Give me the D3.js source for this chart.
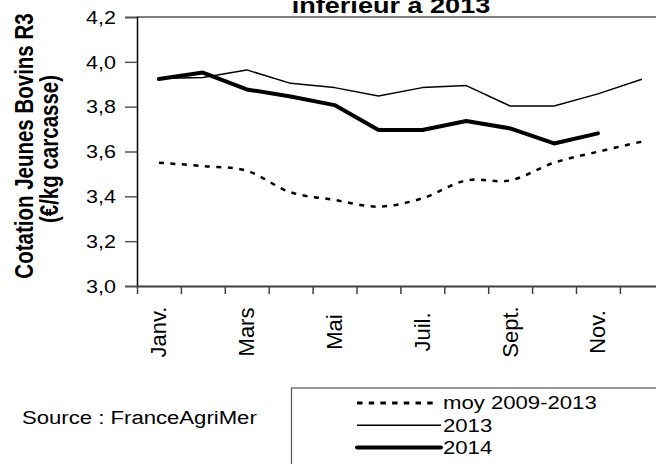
<!DOCTYPE html>
<html>
<head>
<meta charset="utf-8">
<script src="https://cdn.jsdelivr.net/npm/d3@7"></script>
<style>
  body { margin: 0; background: #fff; }
  svg { display: block; font-family: "Liberation Sans", Arial, sans-serif; }
</style>
</head>
<body>
<svg id="chart" width="656" height="464"></svg>
<script>
// months on the x axis (only every other one is labelled)
const months = ["Janv.", "Févr.", "Mars", "Avr.", "Mai", "Juin", "Juil.", "Août", "Sept.", "Oct.", "Nov.", "Déc."];
const yTicks = [3.0, 3.2, 3.4, 3.6, 3.8, 4.0, 4.2];

// €/kg carcasse
const moy0913 = [3.55, 3.535, 3.514, 3.418, 3.384, 3.354, 3.391, 3.471, 3.471, 3.55, 3.599, 3.644];
const val2013 = [3.926, 3.93, 3.964, 3.904, 3.885, 3.848, 3.885, 3.894, 3.803, 3.803, 3.857, 3.922];
const val2014 = [3.923, 3.952, 3.877, 3.845, 3.807, 3.696, 3.696, 3.736, 3.703, 3.636, 3.681];

const seriesNames = ["moy 2009-2013", "2013", "2014"];

const SX = 1.23; // the source picture is stretched sideways

let svg = d3.select('#chart');

let plotLeft = 137, plotTop = 17, plotBottom = 286, step = 43.9;
let plotRight = plotLeft + step * months.length;

let x = d3.scaleBand().domain(months).range([plotLeft, plotRight]);
let xEdge = d3.scaleLinear().domain([0, months.length]).range([plotLeft, plotRight]);
let y = d3.scaleLinear().domain([3.0, 4.2]).range([plotBottom, plotTop]);

let fmt = d => d3.format('.1f')(d).replace('.', ',');

// title (second line, the top is cut off like in the source)
svg.append('text')
  .attr('transform', `translate(391, 12.8) scale(${SX},1)`)
  .attr('text-anchor', 'middle')
  .style('font-weight', 'bold')
  .style('font-size', '22px')
  .text('inférieur à 2013');

// plot frame top
svg.append('line')
  .attr('x1', plotLeft).attr('x2', 656)
  .attr('y1', plotTop).attr('y2', plotTop)
  .style('stroke', '#808080')
  .style('stroke-width', 2);

// y axis
let yAxis = svg.append('g')
  .attr('transform', `translate(${plotLeft},0)`)
  .call(d3.axisLeft(y).tickValues(yTicks).tickSize(12).tickFormat(fmt));
yAxis.select('.domain').style('stroke', '#000').style('stroke-width', 1.5);
yAxis.selectAll('.tick line').style('stroke', '#555').style('stroke-width', 1.5);
yAxis.selectAll('.tick text')
  .attr('x', null)
  .attr('dy', null)
  .attr('dominant-baseline', 'central')
  .attr('transform', `translate(-21,0) scale(${SX},1)`)
  .style('font-size', '17.5px')
  .style('fill', '#000')
  .style('font-family', '"Liberation Sans", Arial, sans-serif');

// x axis with ticks between months
let xAxis = svg.append('g')
  .attr('transform', `translate(0,${plotBottom})`)
  .call(d3.axisBottom(xEdge).ticks(months.length).tickSize(8).tickSizeOuter(0).tickFormat(''));
xAxis.select('.domain').style('stroke', '#404040').style('stroke-width', 2);
xAxis.selectAll('.tick line').style('stroke', '#404040').style('stroke-width', 1.5);

svg.append('g')
  .selectAll('text')
  .data(months.filter((d, i) => i % 2 == 0))
  .enter()
  .append('text')
  .attr('transform', d => `translate(${x(d) + x.bandwidth() / 2}, 332) rotate(-90)`)
  .attr('text-anchor', 'middle')
  .attr('dominant-baseline', 'central')
  .style('font-size', '22px')
  .text(d => d);

// y axis title, two lines
let yTitle = svg.append('g')
  .style('font-weight', 'bold')
  .style('font-size', '20.5px');
yTitle.append('text')
  .attr('transform', `translate(24,146) scale(${SX},1) rotate(-90)`)
  .attr('text-anchor', 'middle')
  .attr('dominant-baseline', 'central')
  .text('Cotation Jeunes Bovins R3');
yTitle.append('text')
  .attr('transform', `translate(49,149) scale(${SX},1) rotate(-90)`)
  .attr('text-anchor', 'middle')
  .attr('dominant-baseline', 'central')
  .text('(€/kg carcasse)');

// lines
let cx = (d, i) => x(months[i]) + x.bandwidth() / 2;

let lineSmooth = d3.line().x(cx).y(d => y(d)).curve(d3.curveCatmullRom);
let lineStraight = d3.line().x(cx).y(d => y(d));

let styles = [
  { w: 2.5, dash: '5,6.5' },
  { w: 1.5, dash: null },
  { w: 4, dash: null }
];

svg.append('path')
  .attr('d', lineSmooth(moy0913))
  .style('fill', 'none')
  .style('stroke', '#000')
  .style('stroke-width', styles[0].w)
  .style('stroke-dasharray', styles[0].dash);

svg.append('path')
  .attr('d', lineStraight(val2013))
  .style('fill', 'none')
  .style('stroke', '#000')
  .style('stroke-width', styles[1].w)
  .style('stroke-linejoin', 'round');

svg.append('path')
  .attr('d', lineStraight(val2014))
  .style('fill', 'none')
  .style('stroke', '#000')
  .style('stroke-width', styles[2].w)
  .style('stroke-linejoin', 'round')
  .style('stroke-linecap', 'round');

// source
svg.append('text')
  .attr('transform', `translate(22,418) scale(${SX},1)`)
  .attr('dominant-baseline', 'central')
  .style('font-size', '18px')
  .text('Source : FranceAgriMer');

// legend box (runs off the page)
let legend = svg.append('g');
legend.append('rect')
  .attr('x', 291.5).attr('y', 388)
  .attr('width', 400).attr('height', 120)
  .style('fill', 'none')
  .style('stroke', '#555')
  .style('stroke-width', 1.2);

let items = legend.selectAll('g.item')
  .data(seriesNames)
  .enter()
  .append('g')
  .attr('class', 'item')
  .attr('transform', (d, i) => `translate(0,${403 + i * 22.3})`);

items.append('line')
  .attr('x1', 357).attr('x2', (d, i) => i == 0 ? 437 : 441)
  .style('stroke', '#000')
  .style('stroke-width', (d, i) => i == 0 ? 3 : styles[i].w)
  .style('stroke-dasharray', (d, i) => i == 0 ? '5.5,6.2' : null)
  .style('stroke-linecap', (d, i) => i == 2 ? 'round' : 'butt');

items.append('text')
  .attr('transform', `translate(443,0) scale(${SX},1)`)
  .attr('dominant-baseline', 'central')
  .style('font-size', '18px')
  .text(d => d);
</script>
</body>
</html>
